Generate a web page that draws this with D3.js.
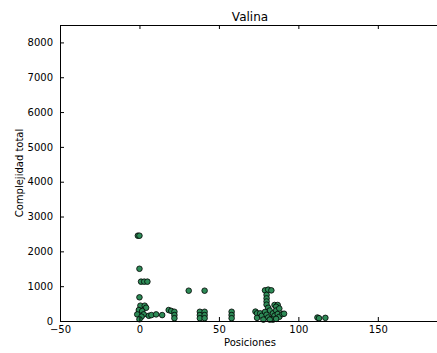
<!DOCTYPE html>
<html>
<head>
<meta charset="utf-8">
<script src="https://cdn.jsdelivr.net/npm/d3@7"></script>
<style>
  body { margin: 0; background: #fff; }
  svg { display: block; font-family: "DejaVu Sans", sans-serif; }
</style>
</head>
<body>
<div id="chart"></div>
<script>
"use strict"

// posiciones (x) y complejidad total (y)
var posiciones = [-1, 0, 0, 1, 3, 5, 0,
  0.6, 3.3, 4.2, -0.4, 1.7, -1.4, 2.7, 1.3, 0, 5.9, 7.5, 10.5, 14.3, 18.4, 20, 22, 22, 22,
  31, 41, 38, 38, 38, 41, 41, 41, 58, 58, 58,
  73, 74, 74, 76, 77, 79, 81, 83, 80, 80, 80, 80, 81, 82, 79, 80, 81, 83, 84, 85, 87, 86, 86, 85, 87, 88, 88, 90, 91, 84, 78, 82, 86,
  112, 113, 117];
var complejidad = [2450, 2450, 1500, 1130, 1130, 1130, 680,
  440, 440, 380, 315, 285, 190, 190, 125, 50, 150, 170, 190, 170, 315, 290, 265, 170, 80,
  870, 870, 265, 170, 80, 265, 170, 80, 265, 170, 80,
  270, 220, 90, 220, 150, 880, 900, 880, 750, 650, 560, 470, 380, 300, 260, 180, 100, 60, 220, 460, 460, 410, 300, 150, 200, 120, 360, 200, 210, 40, 40, 40, 60,
  100, 80, 90];
var xTicks = [-50, 0, 50, 100, 150];
var yTicks = [0, 1000, 2000, 3000, 4000, 5000, 6000, 7000, 8000];

var svg = d3.select("#chart").append("svg")
  .attr("width", 437)
  .attr("height", 353);

var mLeft = 60, mTop = 25, mRight = 439, mBottom = 321;

var x = d3.scaleLinear().domain([-50, 188.5]).range([mLeft, mRight]);
var y = d3.scaleLinear().domain([0, 8500]).range([mBottom, mTop]);

// puntos
svg.append("g")
  .selectAll("circle")
  .data(posiciones)
  .enter().append("circle")
  .attr("cx", function(d) { return x(d) })
  .attr("cy", function(d, i) { return y(complejidad[i]) })
  .attr("r", 2.8)
  .attr("fill", "#2e8b57")
  .attr("stroke", "#000")
  .attr("stroke-width", 0.8);

// ejes
var xAxis = svg.append("g")
  .attr("transform", "translate(0," + mBottom + ")")
  .call(d3.axisBottom(x).tickValues(xTicks).tickSizeInner(-4).tickSizeOuter(0).tickPadding(4.5));
var xTop = svg.append("g")
  .attr("transform", "translate(0," + mTop + ")")
  .call(d3.axisTop(x).tickValues(xTicks).tickSizeInner(-4).tickSizeOuter(0).tickFormat(""));
var yAxis = svg.append("g")
  .attr("transform", "translate(" + mLeft + ",0)")
  .call(d3.axisLeft(y).tickValues(yTicks).tickSizeInner(-4).tickSizeOuter(0).tickPadding(7).tickFormat(d3.format("d")));

[xAxis, xTop, yAxis].forEach(function(g) {
  g.select(".domain").attr("stroke", "#000").attr("stroke-width", 1);
  g.selectAll(".tick line").attr("stroke", "#000");
  g.selectAll("text").attr("font-family", "DejaVu Sans").attr("font-size", 10).attr("fill", "#000");
});
xAxis.selectAll("text").text(function(d) { return d < 0 ? "\u2212" + Math.abs(d) : d });

svg.append("text")
  .attr("x", 250).attr("y", 20.5)
  .attr("text-anchor", "middle")
  .attr("font-size", 12)
  .text("Valina");

svg.append("text")
  .attr("x", 250).attr("y", 346)
  .attr("text-anchor", "middle")
  .attr("font-size", 10)
  .text("Posiciones");

svg.append("text")
  .attr("transform", "translate(23," + ((mTop + mBottom) / 2) + ") rotate(-90)")
  .attr("text-anchor", "middle")
  .attr("font-size", 10)
  .text("Complejidad total");
</script>
</body>
</html>
